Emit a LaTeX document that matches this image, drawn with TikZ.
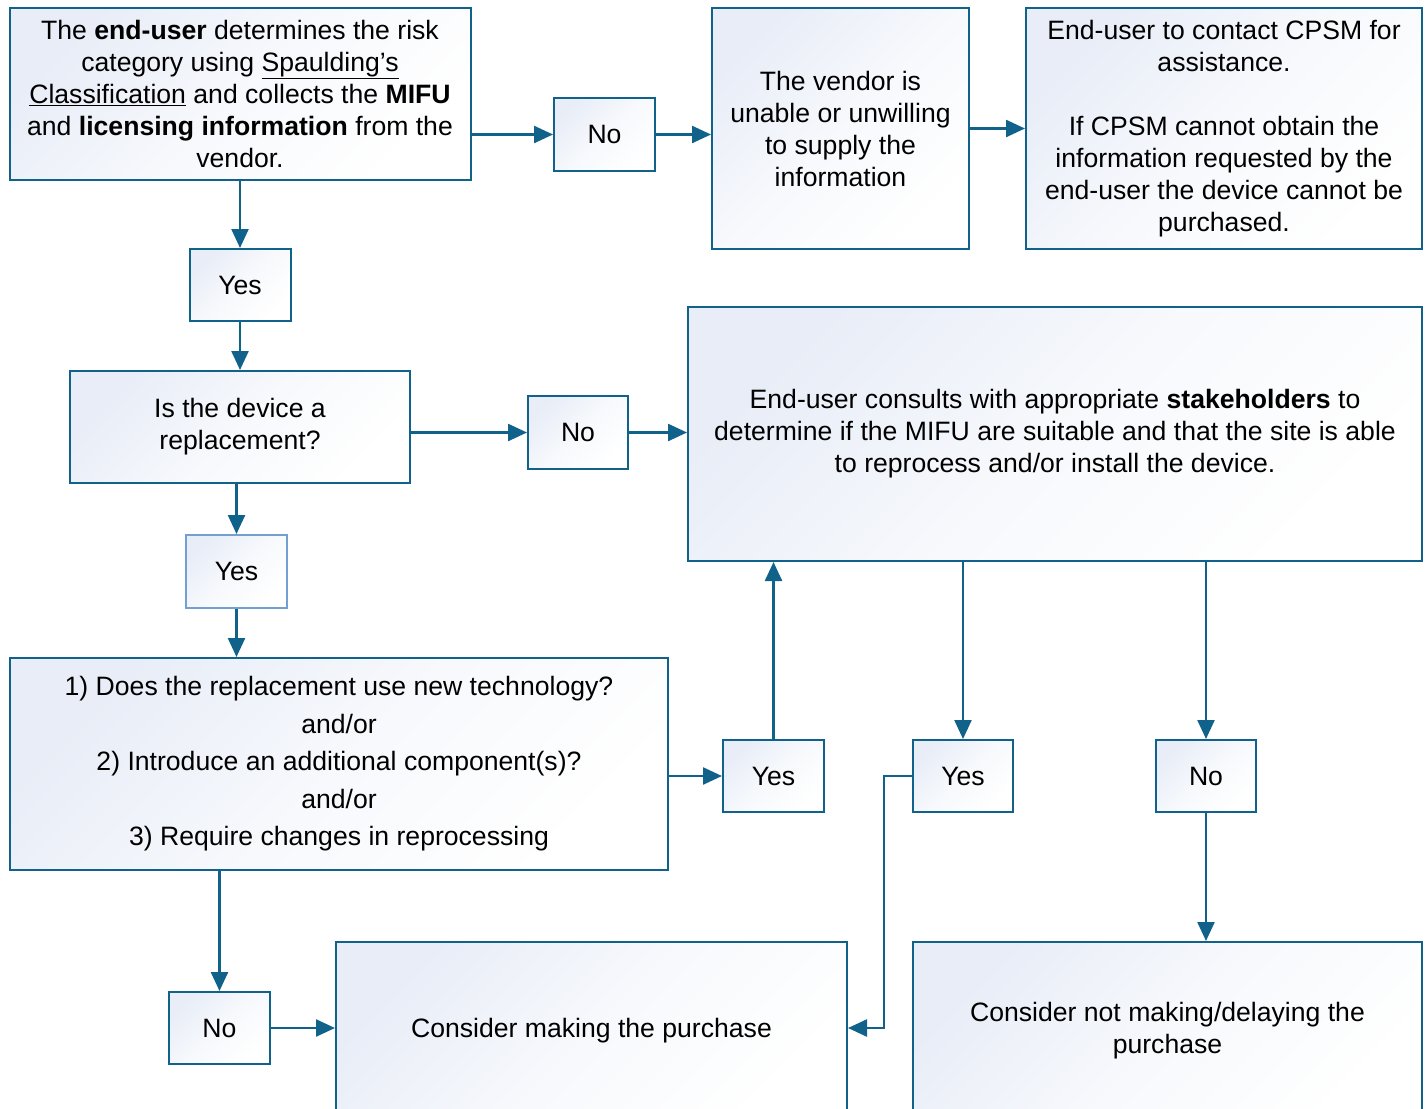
\documentclass[tikz,border=0pt]{standalone}
\usepackage{fontspec}
\setmainfont{Liberation Sans}
\usetikzlibrary{arrows.meta}
\definecolor{edge}{RGB}{16,98,138}
\definecolor{grad}{RGB}{232,237,247}
\definecolor{lightedge}{RGB}{115,160,210}
\begin{document}
\begin{tikzpicture}[x=1pt,y=-1pt,
  box/.style={draw=edge, line width=2pt, top color=grad, bottom color=white, middle color=grad!35!white, shading angle=45,
    inner sep=0pt, align=center, font=\fontsize{26.6}{32}\selectfont},
  link/.style={draw=edge, line width=2.4pt, -{Triangle[length=19pt,width=17pt]}}]
\useasboundingbox (0,0) rectangle (1428,1109);
\clip (0,0) rectangle (1428,1109);
\node[box, minimum width=461pt, minimum height=172pt] (A) at (240,94)
  {The \textbf{end-user} determines the risk\\ category using \underline{Spaulding’s}\\
   \underline{Classification} and collects the \textbf{MIFU}\\ and \textbf{licensing information} from the\\ vendor.};
\node[box, minimum width=101pt, minimum height=73pt] (NoA) at (604.5,134.5) {No};
\node[box, minimum width=257pt, minimum height=241pt] (Vendor) at (840.5,128.5)
  {The vendor is\\ unable or unwilling\\ to supply the\\ information};
\node[box, minimum width=396pt, minimum height=241pt] (CPSM) at (1224,128.5)
  {End-user to contact CPSM for\\ assistance.\\[32pt] If CPSM cannot obtain the\\ information requested by the\\ end-user the device cannot be\\ purchased.};
\node[box, minimum width=101pt, minimum height=72pt] (Yes1) at (240,285) {Yes};
\node[box, minimum width=340pt, minimum height=112pt] (Repl) at (240,427) {Is the device a\\ replacement?};
\node[box, minimum width=100pt, minimum height=73pt] (NoB) at (578,432.5) {No};
\node[box, minimum width=734pt, minimum height=254pt] (Stake) at (1055,434)
  {End-user consults with appropriate \textbf{stakeholders} to\\ determine if the MIFU are suitable and that the site is able\\ to reprocess and/or install the device.};
\node[box, draw=lightedge, minimum width=101pt, minimum height=73pt] (Yes2) at (236.5,571.5) {Yes};
\node[box, minimum width=658pt, minimum height=212pt, font=\fontsize{26.6}{37.5}\selectfont] (Q) at (339,764)
  {1) Does the replacement use new technology?\\ and/or\\ 2) Introduce an additional component(s)?\\ and/or\\ 3) Require changes in reprocessing};
\node[box, minimum width=101pt, minimum height=72pt] (Yes3) at (773.5,776) {Yes};
\node[box, minimum width=100pt, minimum height=72pt] (Yes4) at (963,776) {Yes};
\node[box, minimum width=100pt, minimum height=72pt] (No3) at (1206,776) {No};
\node[box, minimum width=101pt, minimum height=72pt] (No4) at (219.5,1028) {No};
\node[box, minimum width=511pt, minimum height=178pt] (Purch) at (591.5,1031) {Consider making the purchase};
\node[box, minimum width=509pt, minimum height=178pt] (NotP) at (1167.5,1031) {Consider not making/delaying the\\ purchase};
\coordinate (bend) at (884,776);
\draw[link] (A.east |- NoA.west) -- (NoA.west);
\draw[link] (NoA.east) -- (NoA.east -| Vendor.west);
\draw[link] (Vendor.east) -- (CPSM.west);
\draw[link] (A.south) -- (Yes1.north);
\draw[link] (Yes1.south) -- (Repl.north);
\draw[link] (Repl.east |- NoB.west) -- (NoB.west);
\draw[link] (NoB.east) -- (NoB.east -| Stake.west);
\draw[link] (Yes2.north |- Repl.south) -- (Yes2.north);
\draw[link] (Yes2.south) -- (Yes2.south |- Q.north);
\draw[link] (Q.east |- Yes3.west) -- (Yes3.west);
\draw[link] (Yes3.north) -- (Yes3.north |- Stake.south);
\draw[link] (Yes4.north |- Stake.south) -- (Yes4.north);
\draw[link] (No3.north |- Stake.south) -- (No3.north);
\draw[link] (No3.south) -- (No3.south |- NotP.north);
\draw[link] (Yes4.west) -- (bend) |- (No4.east -| Purch.east);
\draw[link] (No4.north |- Q.south) -- (No4.north);
\draw[link] (No4.east) -- (No4.east -| Purch.west);
\end{tikzpicture}
\end{document}
